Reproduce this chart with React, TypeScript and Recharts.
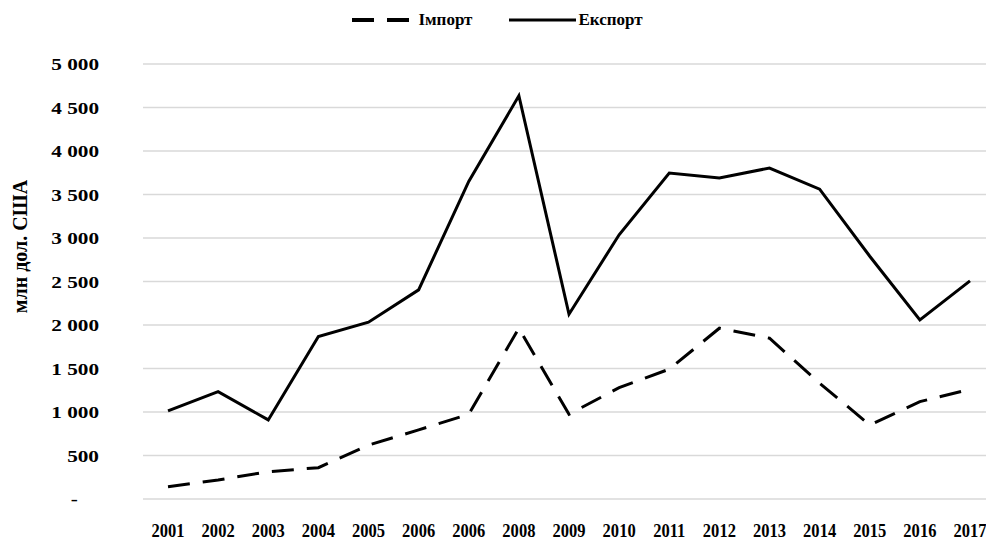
import React from "react";
import { LineChart, Line, XAxis, YAxis, CartesianGrid, Legend } from "recharts";

const years = [
  "2001", "2002", "2003", "2004", "2005", "2006", "2006", "2008", "2009",
  "2010", "2011", "2012", "2013", "2014", "2015", "2016", "2017",
];
const importValues = [142, 219, 314, 360, 620, 794, 974, 1963, 974, 1280, 1492, 1963, 1848, 1331, 851, 1119, 1262];
const exportValues = [1012, 1234, 909, 1867, 2032, 2404, 3650, 4635, 2124, 3037, 3746, 3689, 3804, 3562, 2790, 2059, 2507];
const yTicks = [0, 500, 1000, 1500, 2000, 2500, 3000, 3500, 4000, 4500, 5000];

const FONT = '"Liberation Serif", "Times New Roman", serif';
const IMPORT_DASH = "22 13";

const data = years.map((year, i) => ({
  year,
  import: importValues[i],
  export: exportValues[i],
}));

// excel-style "# ##0" with a dash for zero
const formatTick = (v: number) => {
  if (v === 0) return "-\u00a0\u00a0\u00a0\u00a0";
  return String(v).replace(/\B(?=(\d{3})+(?!\d))/g, "\u00a0");
};

// the value labels in the source are drawn wider than normal
function YTick({ x, y, payload }: any) {
  return (
    <g transform={`translate(${x},${y}) scale(1.25,1)`}>
      <text
        x={0}
        y={0}
        dy="0.355em"
        textAnchor="end"
        fontFamily={FONT}
        fontWeight={700}
        fontSize={17}
        fill="#000"
      >
        {formatTick(payload.value)}
      </text>
    </g>
  );
}

// ...and the year labels narrower
function XTick({ x, y, payload }: any) {
  return (
    <g transform={`translate(${x},${y}) scale(0.87,1)`}>
      <text
        x={0}
        y={0}
        dy="0.71em"
        textAnchor="middle"
        fontFamily={FONT}
        fontWeight={700}
        fontSize={19}
        fill="#000"
      >
        {payload.value}
      </text>
    </g>
  );
}

function AxisTitle(props: any) {
  const { viewBox } = props;
  const x = viewBox.x + 19.5;
  const y = viewBox.y + viewBox.height / 2 - 35;
  return (
    <text
      x={x}
      y={y}
      transform={`rotate(-90, ${x}, ${y})`}
      textAnchor="middle"
      dominantBaseline="central"
      fontFamily={FONT}
      fontWeight={700}
      fontSize={20}
      fill="#000"
    >
      млн дол. США
    </text>
  );
}

function LegendContent({ payload }: any) {
  return (
    <div
      style={{
        display: "flex",
        justifyContent: "center",
        alignItems: "center",
        height: 30,
        fontFamily: FONT,
        fontWeight: 700,
        fontSize: 17,
        color: "#000",
      }}
    >
      {(payload || []).map((entry: any, i: number) => {
        const dashed = entry.dataKey === "import";
        const w = dashed ? 57 : 67;
        return (
          <div
            key={entry.dataKey}
            style={{ display: "flex", alignItems: "center", marginLeft: i === 0 ? 0 : 37 }}
          >
            <svg width={w} height={10} style={{ marginRight: dashed ? 9 : 2 }}>
              <line
                x1={0}
                y1={5}
                x2={w}
                y2={5}
                stroke="#000"
                strokeWidth={dashed ? 4 : 3}
                strokeDasharray={dashed ? IMPORT_DASH : undefined}
              />
            </svg>
            <span>{entry.value}</span>
          </div>
        );
      })}
    </div>
  );
}

export default function App() {
  return (
    <div
      style={{
        position: "fixed",
        left: 0,
        top: 0,
        width: 986,
        height: 540,
        overflow: "hidden",
        background: "#fff",
      }}
    >
      <LineChart width={1000} height={540} data={data} margin={{ top: 34, right: 5, bottom: 0, left: 0 }}>
        <CartesianGrid vertical={false} stroke="#d9d9d9" strokeWidth={1.5} />
        <XAxis
          dataKey="year"
          axisLine={false}
          tickLine={false}
          tickSize={0}
          tickMargin={24}
          height={41}
          interval={0}
          padding={{ left: 25, right: 25 }}
          tick={<XTick />}
        />
        <YAxis
          width={143}
          domain={[0, 5000]}
          ticks={yTicks}
          axisLine={false}
          tickLine={false}
          tickSize={0}
          tickMargin={44}
          tick={<YTick />}
          label={<AxisTitle />}
        />
        <Legend
          verticalAlign="top"
          height={30}
          wrapperStyle={{ top: 5 }}
          content={<LegendContent />}
        />
        <Line
          type="linear"
          dataKey="import"
          name="Імпорт"
          stroke="#000"
          strokeWidth={3}
          strokeDasharray={IMPORT_DASH}
          dot={false}
          isAnimationActive={false}
        />
        <Line
          type="linear"
          dataKey="export"
          name="Експорт"
          stroke="#000"
          strokeWidth={3}
          dot={false}
          isAnimationActive={false}
        />
      </LineChart>
    </div>
  );
}
